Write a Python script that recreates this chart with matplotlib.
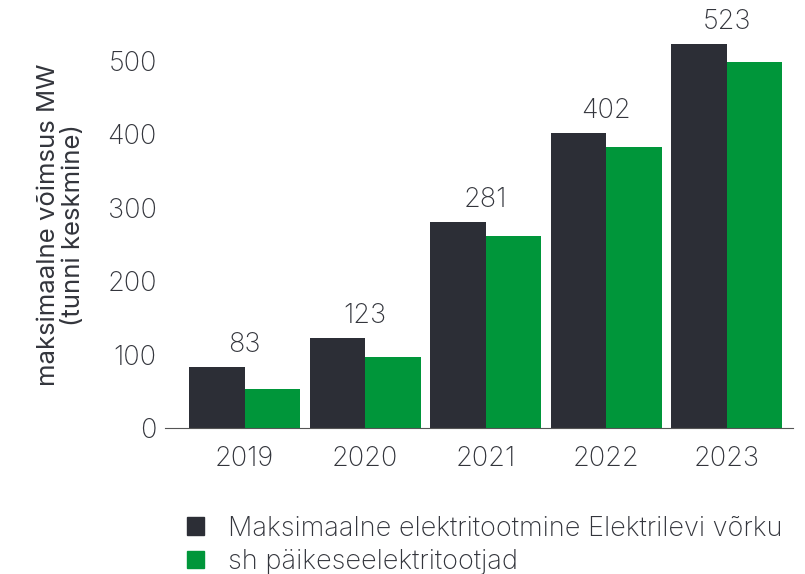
import numpy as np
import matplotlib.pyplot as plt
from matplotlib.patches import Patch

plt.rcParams['font.family'] = ['Inter', 'DejaVu Sans']
plt.rcParams['font.weight'] = 'light'

years = ['2019', '2020', '2021', '2022', '2023']
total_mw = [83, 123, 281, 402, 523]
solar_mw = [54, 97, 261, 382, 498]
series_names = ['Maksimaalne elektritootmine Elektrilevi võrku',
                'sh päikeseelektritootjad']
y_label = 'maksimaalne võimsus MW\n(tunni keskmine)'

dark = '#2c2e36'
green = '#00963a'
text_col = '#33353c'
fs = 19.5

fig = plt.figure(figsize=(8.05, 5.74), dpi=100)
ax = fig.add_axes([0.205, 0.254, 0.78, 0.73])

x = np.arange(len(years))
w = 0.46
ax.bar(x - w / 2, total_mw, w, color=dark)
ax.bar(x + w / 2, solar_mw, w, color=green)

for xi, v in zip(x, total_mw):
    ax.text(xi, v + 12, str(v), ha='center', va='bottom',
            fontsize=fs, color=text_col)

ax.set_xlim(-0.66, 4.55)
ax.set_ylim(0, 570)
ax.set_yticks([0, 100, 200, 300, 400, 500])
ax.set_xticks(x)
ax.set_xticklabels(years)
ax.tick_params(axis='both', length=0, labelsize=fs, labelcolor=text_col)
ax.tick_params(axis='x', pad=13)
ax.tick_params(axis='y', pad=6)
for s in ['top', 'right', 'left']:
    ax.spines[s].set_visible(False)
ax.spines['bottom'].set_color('#555555')
ax.set_ylabel(y_label, fontsize=18.5, color=text_col, linespacing=1.15)
ax.yaxis.set_label_coords(-0.127, 0.485)

handles = [Patch(color=dark), Patch(color=green)]
fig.legend(handles, series_names, loc='upper left', bbox_to_anchor=(0.232, 0.102),
           frameon=False, fontsize=fs, handlelength=0.62, handleheight=0.62,
           handletextpad=0.9, labelspacing=0.28, borderaxespad=0, borderpad=0,
           labelcolor=text_col)

fig.savefig('out.png', dpi=100)
